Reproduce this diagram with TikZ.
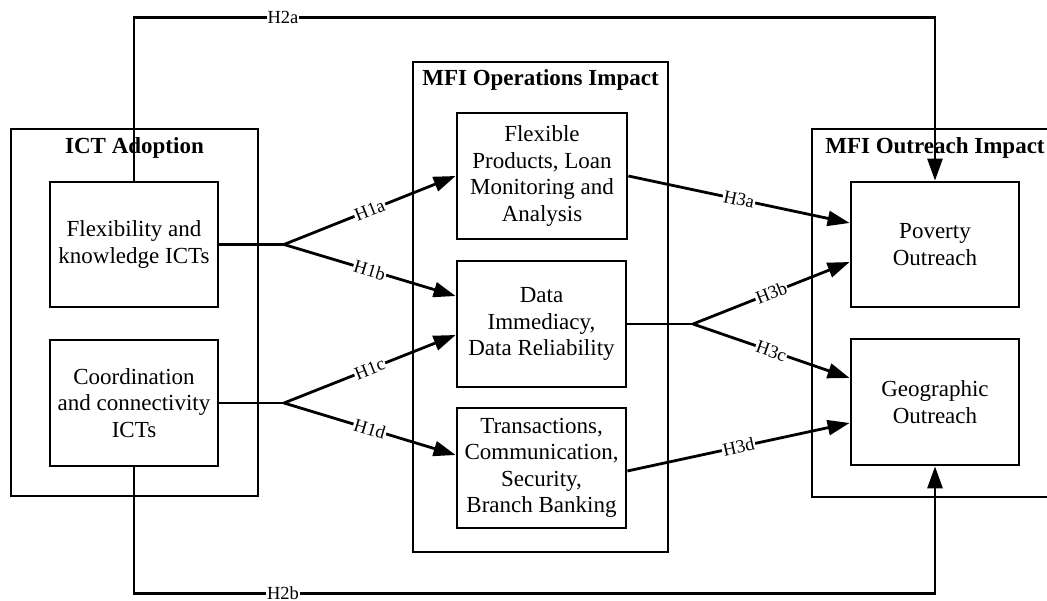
\documentclass[tikz,border=0pt]{standalone}
\usepackage{fontspec}
\setmainfont{Liberation Serif}
\usetikzlibrary{arrows.meta}
\begin{document}
\begin{tikzpicture}[x=1pt,y=-1pt,
  every node/.style={font=\fontsize{23}{26.5}\selectfont},
  frame/.style={draw, line width=2.8pt, inner sep=0pt},
  inbox/.style={draw, line width=2.8pt, align=center, inner sep=0pt},
  ttl/.style={font=\fontsize{23}{26.5}\selectfont\bfseries, anchor=base},
  link/.style={line width=2.8pt},
  arr/.style={link, -{Triangle[length=22pt,width=15pt]}},
  lbl/.style={fill=white, inner sep=1pt, font=\fontsize{18.5}{20}\selectfont},
]
\useasboundingbox (0,0) rectangle (1047,601);
\clip (0,0) rectangle (1047,601);

% outer groups
\node[frame, minimum width=247pt, minimum height=367pt] (ict) at (134.5,312.5) {};
\node[ttl] (ictttl) at (134.5,154) {ICT Adoption};
\node[frame, minimum width=255pt, minimum height=490pt] (ops) at (540.5,307) {};
\node[ttl] (opsttl) at (540.5,86) {MFI Operations Impact};
\node[frame, minimum width=246pt, minimum height=368pt] (out) at (935,313) {};
\node[ttl] (outttl) at (935,154) {MFI Outreach Impact};

% ICT adoption
\node[inbox, minimum width=168pt, minimum height=125pt] (flex) at (134,244.5) {Flexibility and\\knowledge ICTs};
\node[inbox, minimum width=168pt, minimum height=126pt] (coord) at (134,403) {Coordination\\and connectivity\\ICTs};

% operations
\node[inbox, minimum width=170pt, minimum height=126pt] (prod) at (542,176) {Flexible\\Products, Loan\\Monitoring and\\Analysis};
\node[inbox, minimum width=169pt, minimum height=126pt] (data) at (541.5,324) {Data\\Immediacy,\\Data Reliability};
\node[inbox, minimum width=169pt, minimum height=120pt] (trans) at (541.5,468) {Transactions,\\Communication,\\Security,\\Branch Banking};

% outreach
\node[inbox, minimum width=168pt, minimum height=125pt] (pov) at (935,244.5) {Poverty\\Outreach};
\node[inbox, minimum width=168pt, minimum height=126pt] (geo) at (935,402) {Geographic\\Outreach};

% junctions
\coordinate (j1) at (284,244.5);
\coordinate (j2) at (284,403);
\coordinate (j3) at (693,324);

% H1
\draw[link] (flex.east) -- (j1);
\draw[arr] (j1) -- node[lbl,sloped]{H1a} (prod.west);
\draw[arr] (j1) -- node[lbl,sloped]{H1b} ([yshift=28pt]data.west);
\draw[link] (coord.east) -- (j2);
\draw[arr] (j2) -- node[lbl,sloped]{H1c} ([yshift=-11pt]data.west);
\draw[arr] (j2) -- node[lbl,sloped]{H1d} ([yshift=13pt]trans.west);

% H3
\draw[arr] (prod.east) -- node[lbl,sloped]{H3a} ([yshift=21.5pt]pov.west);
\draw[link] (data.east) -- (j3);
\draw[arr] (j3) -- node[lbl,sloped]{H3b} ([yshift=-17.5pt]pov.west);
\draw[arr] (j3) -- node[lbl,sloped]{H3c} ([yshift=24pt]geo.west);
\draw[arr] ([yshift=-3pt]trans.east) -- node[lbl,sloped]{H3d} ([yshift=-21pt]geo.west);

% H2
\draw[arr] (flex.north) -- ++(0,-163) -| node[lbl,pos=0.093]{H2a} (pov.north);
\draw[arr] (coord.south) -- ++(0,126) -| node[lbl,pos=0.093]{H2b} (geo.south);
\end{tikzpicture}
\end{document}
